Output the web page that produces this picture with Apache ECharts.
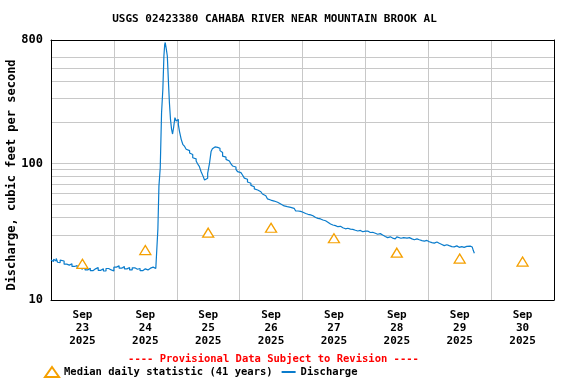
<!DOCTYPE html>
<html>
<head>
<meta charset="utf-8">
<script src="https://cdn.jsdelivr.net/npm/echarts@6/dist/echarts.min.js"></script>
<style>
html,body{margin:0;padding:0;background:#fff;}
#chart{width:576px;height:384px;}
</style>
</head>
<body>
<div id="chart"></div>
<script>
// ---- data (hours since 2025-09-23 00:00 local) ----
const titleText = 'USGS 02423380 CAHABA RIVER NEAR MOUNTAIN BROOK AL';
const yAxisTitle = 'Discharge, cubic feet per second';
const provisionalText = '---- Provisional Data Subject to Revision ----';

const dayLabels = ['Sep\n23\n2025','Sep\n24\n2025','Sep\n25\n2025','Sep\n26\n2025','Sep\n27\n2025','Sep\n28\n2025','Sep\n29\n2025','Sep\n30\n2025'];
const dayLabelHours = [12, 36, 60, 84, 108, 132, 156, 180];
const yTickLabels = [10, 100, 800];
const yGridValues = [20,30,40,50,60,70,80,90,100,200,300,400,500,600,700];

const medianName = 'Median daily statistic (41 years)';
const medianHours = [12, 36, 60, 84, 108, 132, 156, 180];
const medianValues = [18.4, 23.2, 31.1, 33.8, 28.3, 22.2, 20.1, 19.1];

const dischargeName = 'Discharge';
const dischargeHours = [
 0,0.5,1,1.5,2,2.5,3,3.5,4,5,6,7,8,9,10,11,12,13,14,15,16,17,18,19,20,21,22,23,24,25,26,27,28,29,30,31,32,33,34,35,36,37,38,39,40,40.75,
 40.8,41.2,41.7,42.2,42.7,43.1,43.4,43.6,44.0,44.4,44.9,45.2,45.6,46.0,46.4,46.8,47.3,47.8,48.2,48.6,49.0,49.7,50.3,51.0,51.6,52.3,52.9,53.5,54.1,54.8,55.4,56.0,56.6,57.3,58.0,58.6,59.2,59.8,60.5,61.1,61.6,62.0,62.6,63.1,63.6,64.5,65.0,65.5,66.2,66.8,67.5,68.1,68.7,69.3,70.0,70.6,71.2,71.9,72.5,73.1,73.8,74.4,75.0,75.7,76.3,76.9,77.6,78.2,78.9,79.5,80.1,80.7,81.4,82.0,82.6,83.3,83.9,84.5,85.2,85.8,86.5,87.1,87.7,88.3,89.0,89.6,90.2,90.9,91.5,92.1,92.8,93.4,94.3,95.3,96.2,97.2,98.1,99.1,100.0,101.0,101.9,102.9,103.8,104.8,105.7,106.7,107.6,108.6,109.5,110.5,111.4,112.4,113.3,114.3,115.2,116.2,117.1,118.1,119.0,120.0,120.9,121.9,122.8,123.8,124.7,125.7,126.6,127.6,128.5,129.5,130.4,131.4,132.0,132.7,133.6,134.6,135.2,135.9,136.8,137.8,138.7,139.7,140.6,141.6,142.5,143.5,144.4,145.4,146.3,147.3,148.2,149.2,150.1,151.1,152.0,153.0,153.9,154.9,155.8,156.8,157.7,158.7,159.4,160.0,160.4,160.8,161.2,161.6
];
const dischargeValues = [
 19.6,19.1,19.9,19.3,20.1,18.9,18.8,19.6,19.3,18.3,18.0,18.4,17.6,17.9,17.2,16.8,17.5,16.6,17.1,16.4,16.9,17.3,16.5,16.9,16.3,17.0,16.6,16.3,17.4,17.8,17.1,17.6,16.9,17.3,16.6,17.2,16.8,17.0,16.4,16.9,16.6,17.1,17.4,17.0,17.3,17.0,
 33.1,68.3,93,235,350,611,740,767,688,611,369,278,211,179,164,183,216,204,210,193,173,150,138,133,127,124,119,116,110,108,104,99,95,86.9,81,75.6,77.8,84.6,100,122,128,132,135,131,129,124,120,113,111,107,104,101,99,95.7,94,90.5,87,85.5,84,82.2,78,76.5,73,71.5,69,67.5,65,63.8,62.5,62.0,60.5,59.7,58,57.0,55,53.9,54.5,53.0,52.5,51.9,51,50.4,49.5,48.8,48.5,48.2,48.6,47.7,47.2,46.9,45.5,44.8,44.5,43.9,43.0,42.4,42.0,41.4,40.2,39.6,39.2,38.5,38.0,37.1,36.0,35.4,35.0,34.4,34.6,33.8,33.2,33.5,33.0,32.9,32.4,32.0,32.3,31.6,31.9,32.0,31.2,31.3,30.8,30.3,30.6,29.9,29.2,28.6,29.0,28.4,28.0,28.3,29.0,28.3,28.6,28.9,28.4,28.6,28.0,27.6,28.0,27.6,27.2,27.0,27.3,26.7,26.3,26.1,26.6,26.0,25.5,25.0,25.4,25.0,24.6,24.5,24.9,24.3,24.6,24.3,24.7,24.5,24.8,25.0,24.4,23.9,23.0,22.0
];

const FONT = '"DejaVu Sans Mono", "Liberation Mono", monospace';
const dischargeData = dischargeHours.map((h, i) => [h, dischargeValues[i]]);
const medianData = medianHours.map((h, i) => [h, medianValues[i]]);

const GRID_COLOR = '#c8c8c8';
const chart = echarts.init(document.getElementById('chart'), null, {renderer: 'canvas'});
chart.setOption({
  animation: false,
  backgroundColor: '#fff',
  grid: {left: 51, right: 22, top: 40, bottom: 84, show: false},
  xAxis: [{
    type: 'value', min: 0, max: 192, interval: 24, position: 'bottom',
    axisLine: {show: true, onZero: false, lineStyle: {color: '#000', width: 1}},
    axisTick: {show: false},
    splitLine: {show: true, showMinLine: false, showMaxLine: false, lineStyle: {color: GRID_COLOR, width: 1}},
    axisLabel: {
      customValues: dayLabelHours,
      formatter: v => dayLabels[Math.round((v - 12) / 24)],
      fontFamily: FONT, fontWeight: 'bold', fontSize: 11, color: '#000', lineHeight: 13, margin: 9
    }
  }, {
    type: 'value', min: 0, max: 192, position: 'top',
    axisLine: {show: true, onZero: false, lineStyle: {color: '#000', width: 1}},
    axisTick: {show: false}, axisLabel: {show: false}, splitLine: {show: false}
  }],
  yAxis: [{
    type: 'log', logBase: 10, min: 10, max: 800, position: 'left',
    axisLine: {show: true, onZero: false, lineStyle: {color: '#000', width: 1}},
    axisTick: {show: false, customValues: yGridValues},
    splitLine: {show: true, showMinLine: false, showMaxLine: false, lineStyle: {color: GRID_COLOR, width: 1}},
    axisLabel: {
      customValues: yTickLabels,
      formatter: v => String(Math.round(v)),
      fontFamily: FONT, fontWeight: 'bold', fontSize: 12, color: '#000', margin: 8
    }
  }, {
    type: 'log', logBase: 10, min: 10, max: 800, position: 'right',
    axisLine: {show: true, onZero: false, lineStyle: {color: '#000', width: 1}},
    axisTick: {show: false}, axisLabel: {show: false}, splitLine: {show: false}
  }],
  legend: {
    left: 44, top: 366, padding: 0, itemWidth: 14, itemHeight: 10, itemGap: 8,
    textStyle: {fontFamily: FONT, fontWeight: 'bold', fontSize: 10.5, color: '#000'},
    data: [
      {name: medianName},
      {name: dischargeName, itemStyle: {opacity: 0}}
    ]
  },
  graphic: [
    {type: 'text', x: 274.5, y: 19, style: {text: titleText, font: 'bold 11px ' + FONT, fill: '#000', textAlign: 'center', textVerticalAlign: 'middle'}},
    {type: 'text', x: 12, y: 175, rotation: Math.PI / 2, style: {text: yAxisTitle, font: 'bold 12px ' + FONT, fill: '#000', textAlign: 'center', textVerticalAlign: 'middle'}},
    {type: 'text', x: 273.5, y: 359, style: {text: provisionalText, font: 'bold 10.5px ' + FONT, fill: '#ff0000', textAlign: 'center', textVerticalAlign: 'middle'}}
  ],
  series: [
    {
      name: dischargeName, type: 'line', data: dischargeData, step: 'end',
      symbol: 'none', showSymbol: false, z: 3,
      lineStyle: {color: '#0a7ccc', width: 1.2}, itemStyle: {color: '#0a7ccc'}
    },
    {
      name: medianName, type: 'scatter', data: medianData, z: 4,
      symbol: 'triangle', symbolSize: [11, 9],
      itemStyle: {color: '#ffffff', borderColor: '#f5a000', borderWidth: 1.3, opacity: 1}
    }
  ]
});
</script>
</body>
</html>
